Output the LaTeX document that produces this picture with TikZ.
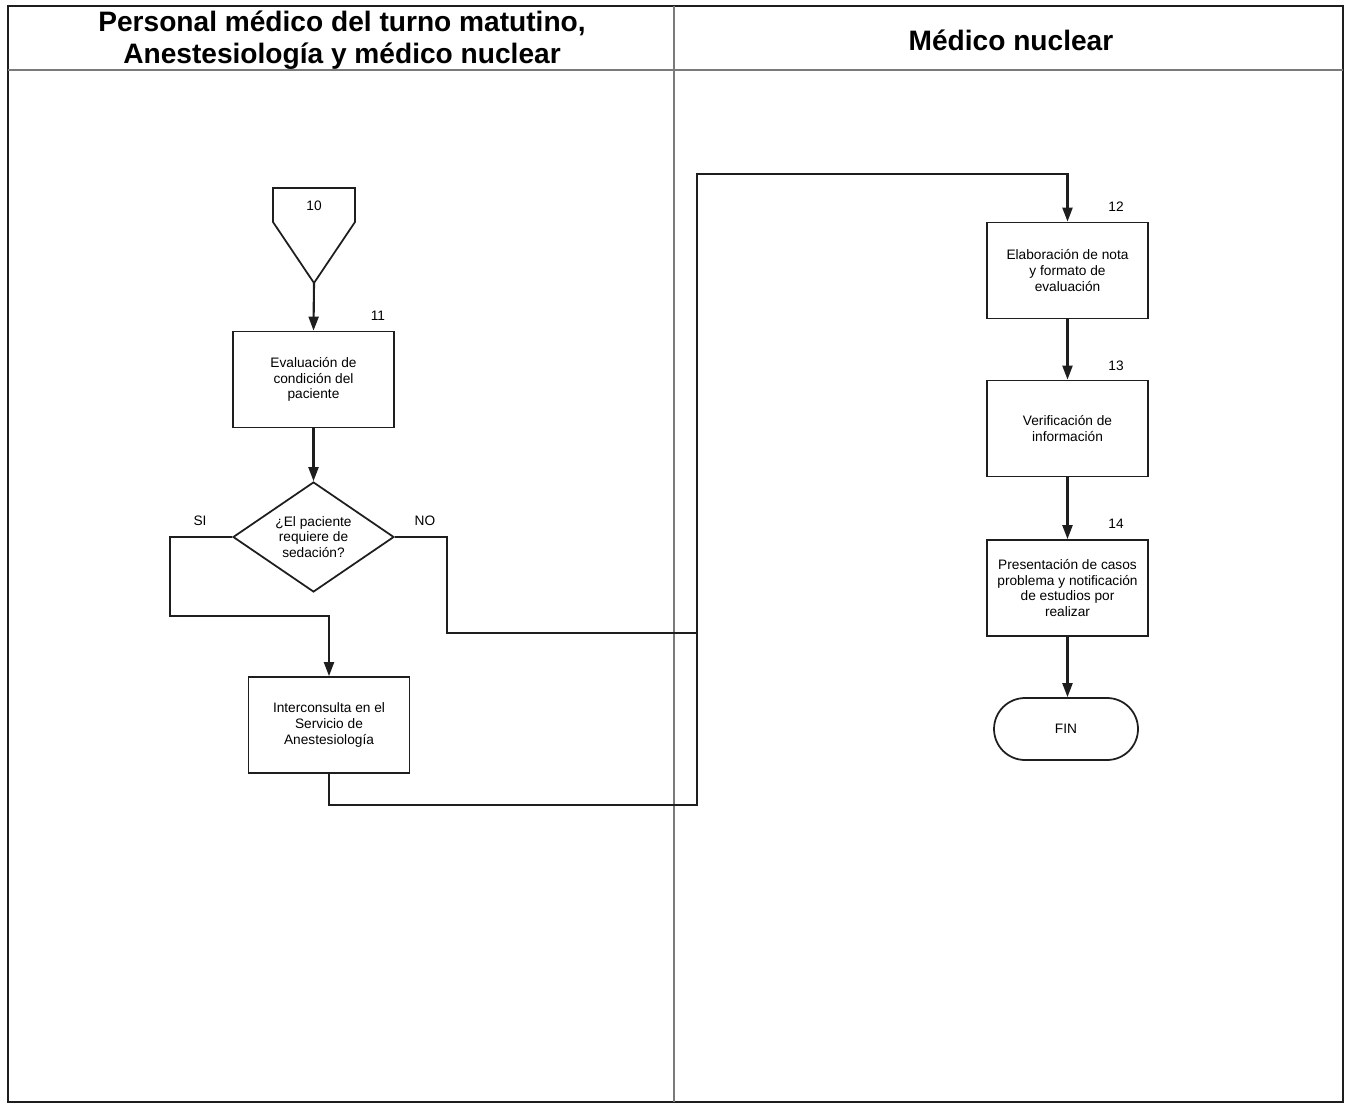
\documentclass[tikz,border=0pt]{standalone}
\usepackage{fontspec}
\setmainfont{Liberation Sans}
\usetikzlibrary{arrows.meta, shapes.geometric}
\definecolor{inkblk}{HTML}{1E1E1E}
\definecolor{lanegray}{HTML}{7A7A7A}

\begin{document}
\begin{tikzpicture}[
  x=0.02cm, y=-0.02cm,
  >={Triangle[length=2.8mm, width=2mm]},
  procbox/.style={draw=inkblk, line width=1pt, minimum width=3.22cm, minimum height=1.92cm,
    align=center, inner sep=2pt, font=\fontsize{7.8}{9}\selectfont},
  decbox/.style={diamond, draw=inkblk, line width=1pt, minimum width=3.22cm, minimum height=2.2cm,
    aspect=1.46, inner sep=0pt, align=center, font=\fontsize{7.8}{9}\selectfont},
  endbox/.style={draw=inkblk, line width=1pt, rounded corners=0.62cm, minimum width=2.88cm,
    minimum height=1.24cm, font=\fontsize{7.8}{9}\selectfont},
  numlbl/.style={font=\fontsize{7.8}{9}\selectfont},
  flow/.style={draw=inkblk, line width=1.2pt},
  lane/.style={draw=lanegray, line width=0.8pt},
  lanehead/.style={font=\fontsize{16}{18}\selectfont\bfseries, align=center},
]
\useasboundingbox (0,0) rectangle (1345,1105);

% ========================================
% Lanes
% ========================================
\draw[inkblk, line width=1pt] (8,6) rectangle (1343,1102);
\draw[lane] (8,70) -- (1343,70);
\draw[lane] (674,6) -- (674,1102);

\node[lanehead] (headleft) at (342,40)
  {Personal médico del turno matutino,\\Anestesiología y médico nuclear};
\node[lanehead] (headright) at (1011,40) {Médico nuclear};

% ========================================
% Left lane
% ========================================
% Off-page connector
\draw[inkblk, line width=1pt] (273,188) -- (355,188) -- (355,222) -- (314,283) -- (273,222) -- cycle;
\node[numlbl] (off10) at (314,206) {10};
\coordinate (c10) at (314,283);

\node[procbox] (b11) at (313.5,379.5) {Evaluación de\\condición del\\paciente};
\node[numlbl] (n11) at (378,316) {11};

\node[decbox] (d1) at (313.5,537) {¿El paciente\\requiere de\\sedación?};
\node[numlbl] (lblsi) at (200,521) {SI};
\node[numlbl] (lblno) at (425,521) {NO};

\node[procbox] (b15) at (329,725) {Interconsulta en el\\Servicio de\\Anestesiología};

\coordinate (siturn) at (170,616);
\coordinate (noturn) at (447,633);
\coordinate (nojoin) at (697,633);
\coordinate (lowturn) at (697,805);
\coordinate (topturn) at (697,174);

\draw[flow, ->] (c10) -- (b11.north);
\draw[flow, ->] (b11) -- (d1);
\draw[flow, ->] (d1.west) -| (siturn) -| (b15.north);
\draw[flow] (d1.east) -| (noturn) -- (nojoin);

% ========================================
% Right lane
% ========================================
\node[procbox] (b12) at (1067.5,270.5) {Elaboración de nota\\y formato de\\evaluación};
\node[numlbl] (n12) at (1116,207) {12};

\node[procbox] (b13) at (1067.5,428.5) {Verificación de\\información};
\node[numlbl] (n13) at (1116,366) {13};

\node[procbox] (b14) at (1067.5,588) {Presentación de casos\\problema y notificación\\de estudios por\\realizar};
\node[numlbl] (n14) at (1116,524) {14};

\node[endbox] (fin) at (1066,729) {FIN};

\draw[flow, ->] (b15.south) |- (lowturn) -- (topturn) -| (b12.north);
\draw[flow, ->] (b12) -- (b13);
\draw[flow, ->] (b13) -- (b14);
\draw[flow, ->] (b14) -- (b14 |- fin.north);

\end{tikzpicture}
\end{document}
